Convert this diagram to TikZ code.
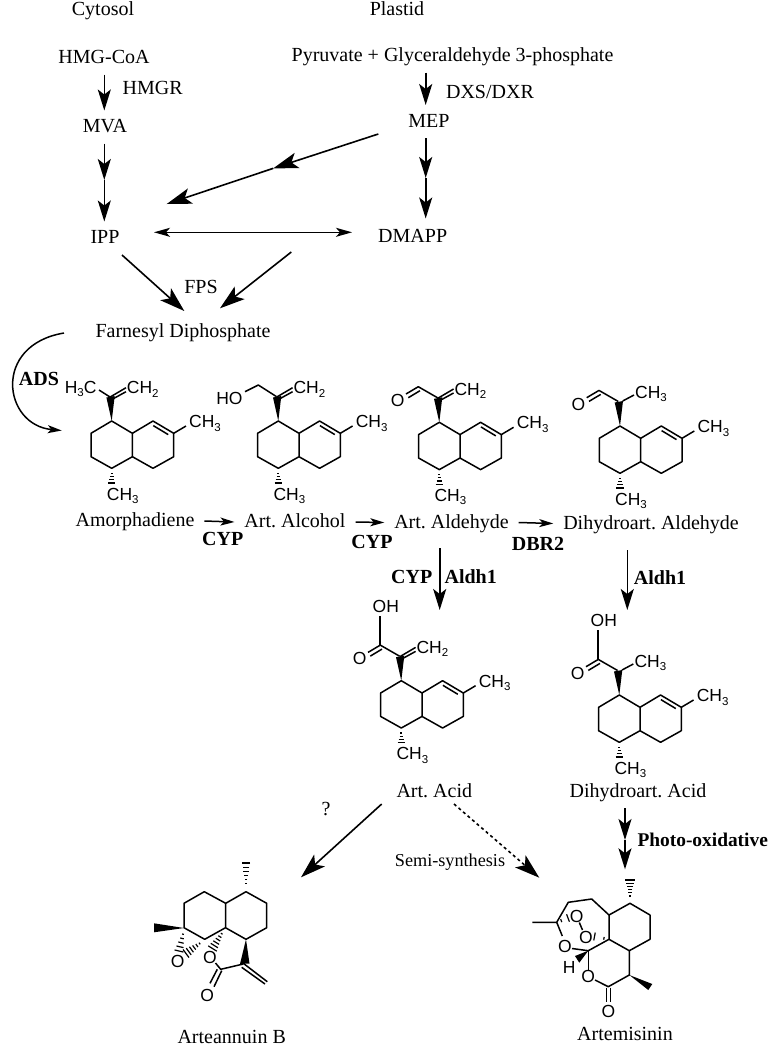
\documentclass[tikz,border=0pt]{standalone}
\usepackage{fontspec}
\setmainfont{Liberation Serif}
\newfontfamily\atomfont{Liberation Sans}
\usetikzlibrary{arrows.meta, positioning}
\frenchspacing

\newcommand{\lo}[1]{\raisebox{-3.5pt}{\fontsize{11.5}{12}\selectfont #1}}

% hashed bond, half width #6 at the far end, [#1] lists the ticks
\newcommand{\hashbond}[6][.2,.36,.52,.68,.84,1]{%
  \pgfmathsetmacro{\hlen}{veclen(#4-#2,#5-#3)}
  \pgfmathsetmacro{\hnx}{-(#5-#3)/\hlen}
  \pgfmathsetmacro{\hny}{(#4-#2)/\hlen}
  \foreach \t in {#1}
    \draw[line width=1.2pt] ({#2+\t*(#4-#2)+\t*#6*\hnx},{#3+\t*(#5-#3)+\t*#6*\hny}) -- ({#2+\t*(#4-#2)-\t*#6*\hnx},{#3+\t*(#5-#3)-\t*#6*\hny});
}

% ring system shared by the six intermediates
\newcommand{\decalin}[1]{%
  \draw[bond] (0,0) -- (-20.7,12.3) -- (-20.7,35.7) -- (0,47.3) -- (20.7,35.7) -- (20.7,12.3) -- cycle;
  \draw[bond] (20.7,12.3) -- (41.3,0) -- (62,12.3) -- (62,35.7) -- (41.3,47.3) -- (20.7,35.7);
  \draw[bond] (41.6,4.6) -- (56.5,13.6);
  \draw[bond] (62,12.3) -- (74.3,5);
  \node[atom, anchor=west] (#1me) at (77.3,0.6) {CH\lo{3}};
  \hashbond[.25,.5,.75,1]{0}{49}{0}{62}{3.6}
  \node[atom, anchor=west] (#1mb) at (-5,73) {CH\lo{3}};
  \fill (0,0) -- (-5.3,-23.5) -- (3,-25) -- cycle;
}
\newcommand{\vinyl}[1]{%
  \draw[bond] (-1.5,-24) -- (14.3,-33.3);
  \draw[bond] (2.3,-22.7) -- (14.3,-29.3);
  \node[atom, anchor=west] (#1ch) at (15,-33.3) {CH\lo{2}};
}
\newcommand{\methine}[1]{%
  \draw[bond] (2.7,-25) -- (14,-31);
  \node[atom, anchor=west] (#1ch) at (15,-33.7) {CH\lo{3}};
}
\newcommand{\formyl}[1]{%
  \draw[bond] (-33.3,-28.3) -- (-21,-35.6) -- (-1.7,-24.5);
  \draw[bond] (-31,-24.6) -- (-19.3,-31.6);
  \node[atom] (#1o) at (-41.5,-22) {O};
}
\newcommand{\carboxyl}[1]{%
  \formyl{#1}
  \draw[bond] (-21.3,-35.6) -- (-21.3,-65);
  \node[atom] (#1oh) at (-15.5,-74.5) {OH};
}

\begin{document}
\begin{tikzpicture}[
    x=1pt, y=-1pt,
    lbl/.style={font=\fontsize{20}{22}\selectfont, inner sep=0pt, outer xsep=10pt, outer ysep=7pt, text height=15pt, text depth=4pt},
    enzyme/.style={lbl, font=\fontsize{20}{22}\selectfont\bfseries},
    atom/.style={font=\fontsize{17.5}{20}\selectfont\atomfont, inner sep=0pt, text height=12pt, text depth=0pt},
    bond/.style={line width=1.5pt, line join=round},
    arrow/.style={-{Stealth[length=21pt, width=13pt, inset=5pt]}, line width=1.6pt},
    bigarrow/.style={-{Stealth[length=25pt, width=16pt, inset=6pt]}, line width=1.6pt},
    thinarrow/.style={-{Stealth[length=14pt, width=8pt, inset=3.5pt]}, line width=1.5pt}
]
\useasboundingbox (0,0) rectangle (772,1050);

% Compartments
\node[lbl] (cytosol) at (103,10) {Cytosol};
\node[lbl] (plastid) at (397,10) {Plastid};

% Upstream pathway
\node[lbl] (hmg) at (104,58) {HMG-CoA};
\node[lbl] (hmgr) at (152.7,89) {HMGR};
\node[lbl] (mva) at (105,127) {MVA};
\node[lbl] (pyruvate) at (452.5,56) {Pyruvate + Glyceraldehyde 3-phosphate};
\node[lbl] (dxs) at (490,93) {DXS/DXR};
\node[lbl] (mep) at (429,121.5) {MEP};
\node[lbl] (ipp) at (105,238) {IPP};
\node[lbl] (dmapp) at (412.7,237) {DMAPP};
\node[lbl] (fps) at (201,287.5) {FPS};
\node[lbl] (farnesyl) at (183,331.5) {Farnesyl Diphosphate};
\node[enzyme] (ads) at (39,379.5) {ADS};

% Helper points
\coordinate (cytaxis) at (104.3,0);
\coordinate (plaaxis) at (425.7,0);
\coordinate (mvamid) at (104.3,180);
\coordinate (mepmid) at (425.7,178);
\coordinate (mepleft) at (378.3,134);
\coordinate (ippmid) at (273.3,168.3);
\coordinate (ippin) at (166.7,204);
\coordinate (ippright) at (154,232.3);
\coordinate (dmappleft) at (352,232.3);
\coordinate (ippout) at (122,255);
\coordinate (fppleft) at (184.3,311);
\coordinate (fppout) at (291.3,252);
\coordinate (fppright) at (220,308.3);
\coordinate (adsout) at (64,333);
\coordinate (adsin) at (61.7,430.5);

% Upstream arrows
\draw[arrow] (hmg.south -| cytaxis) -- (mva.north -| cytaxis);
\draw[arrow] (mva.south -| cytaxis) -- (mvamid);
\draw[arrow] (mvamid) -- (ipp.north -| cytaxis);
\draw[arrow] (pyruvate.south -| plaaxis) -- (mep.north -| plaaxis);
\draw[arrow] (mep.south -| plaaxis) -- (mepmid);
\draw[arrow, shorten >=2pt] (mepmid) -- (dmapp.north -| plaaxis);
\draw[bigarrow] (mepleft) -- (ippmid);
\draw[bigarrow] (ippmid) -- (ippin);
\draw[{Stealth[length=16pt, width=9pt, inset=4pt]}-{Stealth[length=16pt, width=9pt, inset=4pt]}, line width=1.5pt] (ippright) -- (dmappleft);
\draw[bigarrow] (ippout) -- (fppleft);
\draw[bigarrow] (fppout) -- (fppright);
\draw[thinarrow] (adsout) .. controls (-8,345) and (3,425) .. (adsin);

% Intermediates
\begin{scope}[shift={(111.7,421)}]
  \decalin{amorph}
  \vinyl{amorph}
  \draw[bond] (-12.7,-31) -- (-1.7,-24);
  \node[atom, anchor=east] (amorphme) at (-15,-34) {H\lo{3}C};
\end{scope}
\begin{scope}[shift={(278.3,421)}]
  \decalin{alcohol}
  \vinyl{alcohol}
  \draw[bond] (-33.3,-29.3) -- (-20,-36) -- (-1.7,-24.3);
  \node[atom, anchor=east] (alcoholoh) at (-35.6,-22.7) {HO};
\end{scope}
\begin{scope}[shift={(439.3,422.3)}]
  \decalin{aldehyde}
  \vinyl{aldehyde}
  \formyl{aldehyde}
\end{scope}
\begin{scope}[shift={(620,426)}]
  \decalin{dihald}
  \methine{dihald}
  \formyl{dihald}
\end{scope}
\begin{scope}[shift={(401.3,680.7)}]
  \decalin{acid}
  \vinyl{acid}
  \carboxyl{acid}
\end{scope}
\begin{scope}[shift={(619.3,695)}]
  \decalin{dihacid}
  \methine{dihacid}
  \carboxyl{dihacid}
\end{scope}

% Intermediate names
\node[lbl] (amorphadiene) at (135,521) {Amorphadiene};
\node[lbl] (artalcohol) at (295,522) {Art. Alcohol};
\node[lbl] (artaldehyde) at (451.5,522.5) {Art. Aldehyde};
\node[lbl] (dihaldehyde) at (651,523.5) {Dihydroart. Aldehyde};
\node[lbl] (artacid) at (434.3,791.5) {Art. Acid};
\node[lbl] (dihydroacid) at (638,791.5) {Dihydroart. Acid};

% Enzymes
\node[enzyme] (cypa) at (222.7,540) {CYP};
\node[enzyme] (cypb) at (372,542.5) {CYP};
\node[enzyme] (dbr) at (538,544.5) {DBR2};
\node[enzyme] (cypc) at (411.7,578) {CYP};
\node[enzyme] (aldha) at (470.7,578) {Aldh1};
\node[enzyme] (aldhb) at (660,578.5) {Aldh1};
\node[enzyme, font=\fontsize{19.4}{22}\selectfont\bfseries] (photo) at (702.7,841) {Photo-oxidative};
\node[lbl] (question) at (326,810) {?};
\node[lbl, font=\fontsize{18.2}{22}\selectfont] (semi) at (450,861) {Semi-synthesis};

% Helper points, lower half
\coordinate (acidout) at (439.7,548);
\coordinate (acidin) at (439.7,610);
\coordinate (dihout) at (627.3,550);
\coordinate (dihin) at (627.3,610);
\coordinate (artboutt) at (381.7,804);
\coordinate (artbin) at (301,877.3);
\coordinate (artout) at (454,804);
\coordinate (artin) at (539.3,877.7);
\coordinate (photoout) at (625,808.3);
\coordinate (photomid) at (625,840);
\coordinate (photoin) at (625,869.3);

% Lower arrows
\draw[thinarrow] (amorphadiene.east) -- (artalcohol.west);
\draw[thinarrow] (artalcohol.east) -- (artaldehyde.west);
\draw[thinarrow] (artaldehyde.east) -- (dihaldehyde.west);
\draw[arrow] (acidout) -- (acidin);
\draw[arrow] (dihout) -- (dihin);
\draw[bigarrow] (artboutt) -- (artbin);
\draw[bigarrow, dashed] (artout) -- (artin);
\draw[arrow] (photoout) -- (photomid);
\draw[arrow] (photomid) -- (photoin);

% Arteannuin B
\draw[bond] (184,903.3) -- (204.3,891.7) -- (225.7,903.3) -- (246,891.7) -- (266.7,903.3) -- (266.7,927.7) -- (246,939.3) -- (225.5,927.7) -- (204.7,939.3) -- (184,927.7) -- cycle;
\draw[bond] (225.7,903.3) -- (225.5,927.7);
\hashbond{246}{889}{246}{863}{4}
\fill (184,928) -- (154,923.3) -- (154,932.3) -- cycle;
\hashbond[.2,.4,.6,.8,1]{184}{930}{179}{951}{4.5}
\hashbond{203}{941}{186}{953.5}{5}
\hashbond{224}{930}{212.5}{948.5}{5}
\node[atom] (epoxo) at (177.7,961) {O};
\node[atom] (lacto) at (210,957.3) {O};
\draw[bond] (215.5,963) -- (220.7,969.3) -- (243.3,964);
\fill (246,939.3) -- (240,964) -- (249.5,963.5) -- cycle;
\draw[bond] (221.7,970.7) -- (214,986.7);
\draw[bond] (217.3,969.3) -- (210,983.3);
\node[atom] (carbo) at (207.3,995.7) {O};
\draw[bond] (243.3,963.3) -- (267.3,981.7);
\draw[bond] (241.7,967.3) -- (265,984);
\node[lbl] (arteannuin) at (231.7,1037.5) {Arteannuin B};

% Artemisinin
\draw[bond] (630,903.3) -- (650,915) -- (650,939.3) -- (629.3,950.7) -- (609,939.3) -- (609,915) -- cycle;
\draw[bond] (609,915) -- (591.7,899) -- (568.3,902.3) -- (556.7,922.3) -- (532.3,922.3);
\hashbond{630}{900}{630}{880}{4.6}
\draw[bond] (556.7,922.3) -- (562.3,936);
\node[atom] (peroxa) at (565,946) {O};
\draw[bond] (572,948.5) -- (588.3,950.7) -- (609,939.3);
\draw[bond] (588.3,950.7) -- (588.3,970);
\node[atom] (peroxb) at (588.3,976.7) {O};
\draw[bond] (595,980) -- (608.3,986.7) -- (629.3,975) -- (629.3,950.7);
\draw[bond] (606.5,987.5) -- (606.5,1002);
\draw[bond] (610.7,987.5) -- (610.7,1002);
\node[atom] (ketone) at (608.3,1011.7) {O};
\fill (629.3,975) -- (648.3,990) -- (652.3,984) -- cycle;
\fill (588.3,950.7) -- (579.3,962.7) -- (575,956) -- cycle;
\node[atom] (hydrogen) at (569.3,967.3) {H};
\node[atom] (oxa) at (576.7,916.5) {O};
\node[atom] (oxb) at (586,937) {O};
\draw[bond] (579.3,922.5) -- (582.5,930);
\hashbond[.4,1]{556.7}{922.3}{568}{918}{4}
\hashbond[.35,1]{609}{939.3}{594.5}{936.5}{4}
\node[lbl] (artemisinin) at (625,1034.5) {Artemisinin};

\end{tikzpicture}
\end{document}
